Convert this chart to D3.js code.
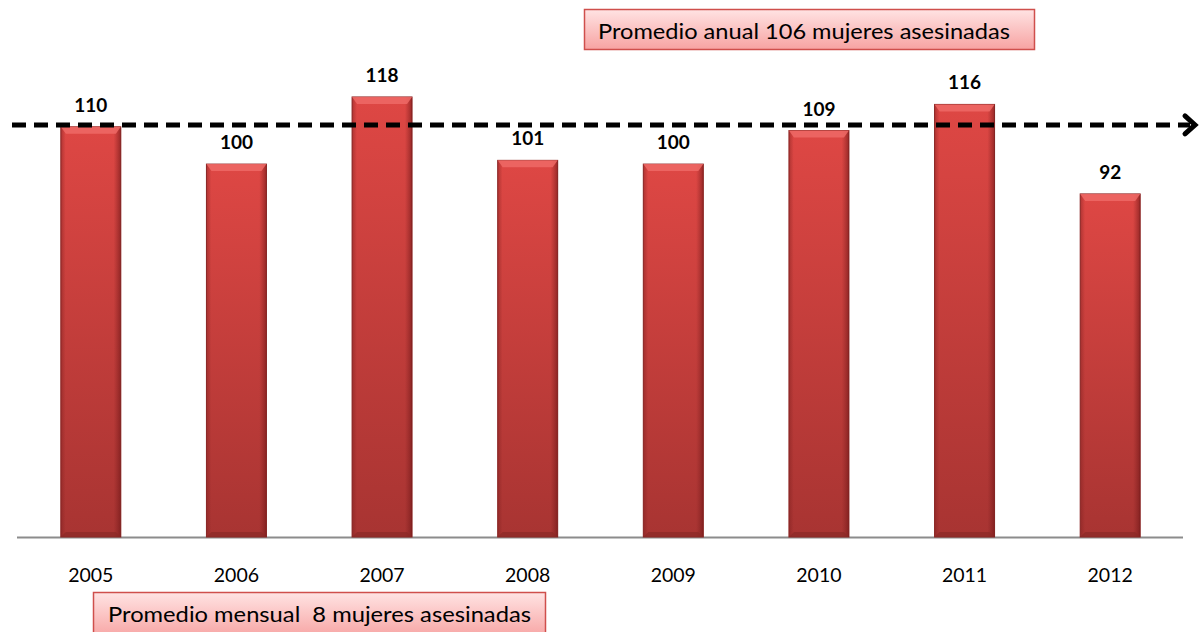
<!DOCTYPE html>
<meta charset="utf-8">
<head>
  <style>
    body { margin: 0; background: #fff; font-family: Lato, "Open Sans", sans-serif; }
    svg { display: block; }
    text.note { white-space: pre; }
  </style>
  <script src="https://cdn.jsdelivr.net/npm/d3@7"></script>
</head>
<body>
<div id="chart"></div>
<script>
  // *** Data
  var years = ["2005", "2006", "2007", "2008", "2009", "2010", "2011", "2012"];
  var killed = [110, 100, 118, 101, 100, 109, 116, 92];
  var annualNote = "Promedio anual 106 mujeres asesinadas";
  var monthlyNote = "Promedio mensual  8 mujeres asesinadas";
  var arrowLevel = 110.5;  // dashed arrow sits just over the 2005 bar

  var width = 1199, height = 632;

  var svg = d3.select("#chart").append("svg")
    .attr("width", width)
    .attr("height", height);

  var x = d3.scaleBand()
    .domain(years)
    .range([18, 1183])
    .paddingInner(0.588)
    .paddingOuter(0.294);

  var y = d3.scaleLinear()
    .domain([0, 144])
    .range([537, 0]);

  var defs = svg.append("defs");

  // bar body, dark toward the bottom
  var g1 = defs.append("linearGradient").attr("id", "barFill")
    .attr("x1", 0).attr("y1", 0).attr("x2", 0).attr("y2", 1);
  g1.append("stop").attr("offset", "0%").attr("stop-color", "#de4744");
  g1.append("stop").attr("offset", "100%").attr("stop-color", "#a83432");

  // side shading of the bevel
  var g2 = defs.append("linearGradient").attr("id", "barSide")
    .attr("x1", 0).attr("y1", 0).attr("x2", 1).attr("y2", 0);
  g2.append("stop").attr("offset", "0%").attr("stop-color", "#7a1e1e").attr("stop-opacity", 0.45);
  g2.append("stop").attr("offset", "8%").attr("stop-color", "#7a1e1e").attr("stop-opacity", 0);
  g2.append("stop").attr("offset", "88%").attr("stop-color", "#7a1e1e").attr("stop-opacity", 0);
  g2.append("stop").attr("offset", "100%").attr("stop-color", "#6a1414").attr("stop-opacity", 0.6);

  var g3 = defs.append("linearGradient").attr("id", "boxFill")
    .attr("x1", 0).attr("y1", 0).attr("x2", 0).attr("y2", 1);
  g3.append("stop").attr("offset", "0%").attr("stop-color", "#ffe3e3");
  g3.append("stop").attr("offset", "100%").attr("stop-color", "#f7a3a2");

  // *** axis line
  svg.append("line")
    .attr("x1", x.range()[0] - 1).attr("x2", x.range()[1])
    .attr("y1", y(0) + 0.5).attr("y2", y(0) + 0.5)
    .attr("stroke", "#8c8c8c")
    .attr("stroke-width", 2);

  // *** bars
  var bars = svg.selectAll(".bar")
    .data(killed)
    .enter().append("g")
    .attr("class", "bar");

  bars.append("rect")
    .attr("x", function(d, i) { return x(years[i]); })
    .attr("y", function(d) { return y(d); })
    .attr("width", x.bandwidth())
    .attr("height", function(d) { return y(0) - y(d); })
    .attr("fill", "url(#barFill)")
    .attr("stroke", "#8e2826")
    .attr("stroke-width", 1);

  bars.append("rect")
    .attr("x", function(d, i) { return x(years[i]); })
    .attr("y", function(d) { return y(d); })
    .attr("width", x.bandwidth())
    .attr("height", function(d) { return y(0) - y(d); })
    .attr("fill", "url(#barSide)");

  // light bevel on top
  bars.append("path")
    .attr("d", function(d, i) {
      var x0 = x(years[i]), x1 = x0 + x.bandwidth(), t = y(d);
      return "M" + x0 + "," + t + "L" + x1 + "," + t + "L" + (x1 - 5) + "," + (t + 7) + "L" + (x0 + 5) + "," + (t + 7) + "Z";
    })
    .attr("fill", "#ee6a66")
    .attr("opacity", 0.85);

  // dark bevel at the foot
  bars.append("path")
    .attr("d", function(d, i) {
      var x0 = x(years[i]), x1 = x0 + x.bandwidth(), b = y(0);
      return "M" + x0 + "," + b + "L" + x1 + "," + b + "L" + (x1 - 5) + "," + (b - 5) + "L" + (x0 + 5) + "," + (b - 5) + "Z";
    })
    .attr("fill", "#8a2927")
    .attr("opacity", 0.7);

  // value labels
  svg.selectAll(".val")
    .data(killed)
    .enter().append("text")
    .attr("class", "val")
    .attr("x", function(d, i) { return x(years[i]) + x.bandwidth() / 2; })
    .attr("y", function(d) { return y(d) - 15; })
    .attr("text-anchor", "middle")
    .style("font-size", "19px")
    .style("font-weight", "bold")
    .style("fill", "#000")
    .text(function(d) { return d; });

  // year labels
  svg.selectAll(".year")
    .data(years)
    .enter().append("text")
    .attr("class", "year")
    .attr("x", function(d) { return x(d) + x.bandwidth() / 2; })
    .attr("y", 582)
    .attr("text-anchor", "middle")
    .style("font-size", "19.5px")
    .style("fill", "#000")
    .text(function(d) { return d; });

  // *** dashed arrow
  var ly = y(arrowLevel);
  svg.append("line")
    .attr("x1", 12).attr("x2", 1190)
    .attr("y1", ly).attr("y2", ly)
    .attr("stroke", "#000")
    .attr("stroke-width", 5)
    .attr("stroke-dasharray", "14,8");

  svg.append("path")
    .attr("d", "M1185," + (ly - 9) + "L1195," + ly + "L1185," + (ly + 9))
    .attr("fill", "none")
    .attr("stroke", "#000")
    .attr("stroke-width", 5)
    .attr("stroke-linecap", "round");

  // *** note boxes
  function noteBox(bx, by, bw, bh, tx, ty, tw, label) {
    svg.append("rect")
      .attr("x", bx).attr("y", by)
      .attr("width", bw).attr("height", bh)
      .attr("fill", "url(#boxFill)")
      .attr("stroke", "#cf4f4c")
      .attr("stroke-width", 1.5);
    svg.append("text")
      .attr("class", "note")
      .attr("x", tx).attr("y", ty)
      .attr("textLength", tw)
      .attr("lengthAdjust", "spacingAndGlyphs")
      .style("font-size", "21px")
      .style("fill", "#000")
      .text(label);
  }

  noteBox(584.5, 9.5, 450, 40, 598, 39, 412, annualNote);
  noteBox(93.5, 592.5, 452, 46, 108, 622, 423, monthlyNote);
</script>
</body>
